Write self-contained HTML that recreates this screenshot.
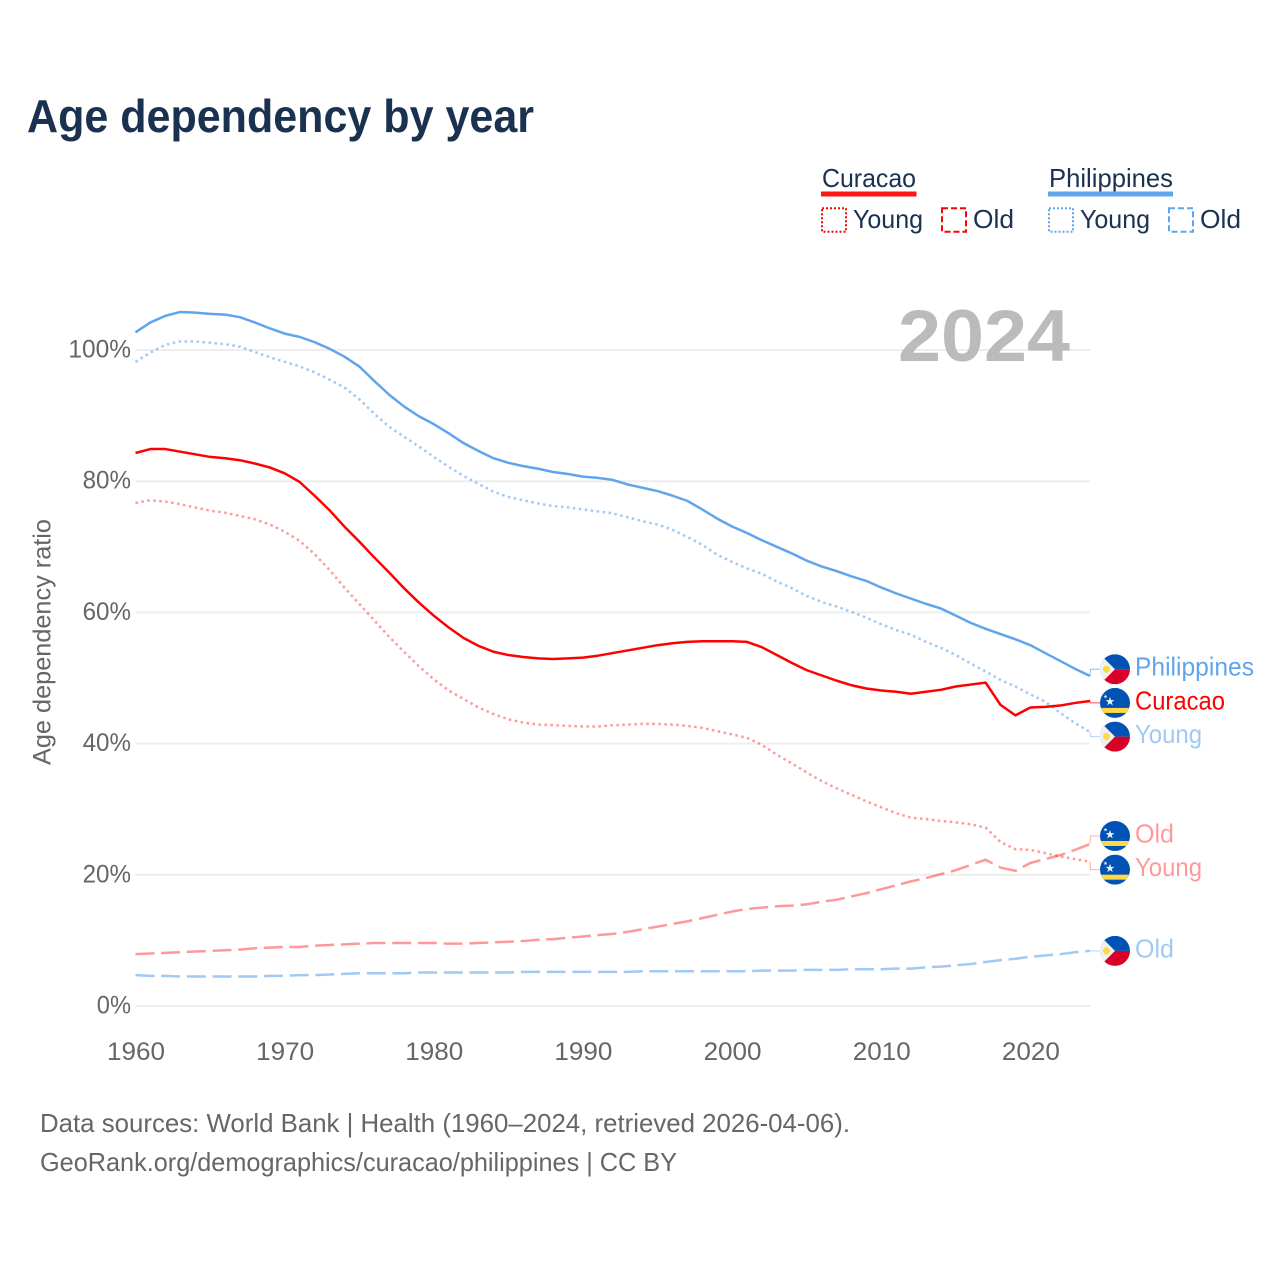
<!DOCTYPE html>
<html lang="en">
<head>
<meta charset="utf-8">
<title>Age dependency by year</title>
<style>
html,body{margin:0;padding:0;background:#fff;width:1280px;height:1280px;overflow:hidden}
svg{display:block}
text{font-family:"Liberation Sans",sans-serif}
</style>
</head>
<body>
<svg id="chart" xmlns="http://www.w3.org/2000/svg" width="1280" height="1280" viewBox="0 0 1280 1280">
  <defs>
    <clipPath id="flag-clip"><circle cx="0" cy="0" r="15"/></clipPath>
    <g id="flag-philippines">
      <g clip-path="url(#flag-clip)">
        <rect x="-15" y="-15" width="30" height="15" fill="#0052b4"/>
        <rect x="-15" y="0" width="30" height="15" fill="#d80027"/>
        <polygon points="-15,-15 0,0 -15,15" fill="#f0f0f0"/>
        <polygon points="-15,-12 -1,0 -15,12" fill="#f0f0f0"/>
        <circle cx="-8.5" cy="0" r="3.6" fill="#ffda44"/>
      </g>
    </g>
    <g id="flag-curacao">
      <g clip-path="url(#flag-clip)">
        <rect x="-15" y="-15" width="30" height="30" fill="#0052b4"/>
        <rect x="-15" y="5" width="30" height="5" fill="#ffda44"/>
        <polygon points="-5,-6 -3.9,-2.8 -0.6,-2.8 -3.2,-0.8 -2.3,2.4 -5,0.5 -7.7,2.4 -6.8,-0.8 -9.4,-2.8 -6.1,-2.8" fill="#f0f0f0"/>
        <polygon points="-9.5,-8.5 -9,-7 -7.5,-7 -8.7,-6 -8.2,-4.6 -9.5,-5.5 -10.8,-4.6 -10.3,-6 -11.5,-7 -10,-7" fill="#f0f0f0"/>
      </g>
    </g>
  </defs>

  <text x="27" y="132" font-size="46" font-weight="700" fill="#1a3150" textLength="507" lengthAdjust="spacingAndGlyphs">Age dependency by year</text>

  <g>
    <text x="822" y="187" font-size="26" fill="#1a3150" textLength="94" lengthAdjust="spacingAndGlyphs">Curacao</text>
    <rect x="821" y="191.5" width="95.5" height="5" fill="#ff0000" opacity="0.92"/>
    <rect x="822" y="208.3" width="24" height="23.5" fill="none" stroke="#ff0000" stroke-width="2" stroke-dasharray="2 2"/>
    <text x="853" y="228" font-size="26" fill="#1a3150" textLength="70" lengthAdjust="spacingAndGlyphs">Young</text>
    <rect x="942" y="208.3" width="24" height="23.5" fill="none" stroke="#ff0000" stroke-width="2" stroke-dasharray="6 3"/>
    <text x="973" y="228" font-size="26" fill="#1a3150" textLength="41" lengthAdjust="spacingAndGlyphs">Old</text>

    <text x="1049" y="187" font-size="26" fill="#1a3150" textLength="124" lengthAdjust="spacingAndGlyphs">Philippines</text>
    <rect x="1048" y="191.5" width="125" height="5" fill="#60a5ec"/>
    <rect x="1049" y="208.3" width="24" height="23.5" fill="none" stroke="#60a5ec" stroke-width="2" stroke-dasharray="2 2"/>
    <text x="1080" y="228" font-size="26" fill="#1a3150" textLength="70" lengthAdjust="spacingAndGlyphs">Young</text>
    <rect x="1169" y="208.3" width="24" height="23.5" fill="none" stroke="#60a5ec" stroke-width="2" stroke-dasharray="6 3"/>
    <text x="1200" y="228" font-size="26" fill="#1a3150" textLength="41" lengthAdjust="spacingAndGlyphs">Old</text>
  </g>

  <g id="grid"></g>
  <g id="yticks"></g>
  <g id="xticks"></g>

  <text transform="translate(50.5,642) rotate(-90)" text-anchor="middle" font-size="25" fill="#666666" textLength="246" lengthAdjust="spacingAndGlyphs">Age dependency ratio</text>

  <text x="898" y="361" font-size="73" font-weight="700" fill="#bbbbbb" textLength="172" lengthAdjust="spacingAndGlyphs">2024</text>

  <g id="series"></g>
  <g id="endlabels"></g>

  <text x="40" y="1132" font-size="26" fill="#666666" textLength="810" lengthAdjust="spacingAndGlyphs">Data sources: World Bank | Health (1960–2024, retrieved 2026-04-06).</text>
  <text x="40" y="1171" font-size="26" fill="#666666" textLength="637" lengthAdjust="spacingAndGlyphs">GeoRank.org/demographics/curacao/philippines | CC BY</text>
</svg>

<script>
var startYear = 1960;
var endYear = 2024;
var xTickLabels = [1960, 1970, 1980, 1990, 2000, 2010, 2020];
var yTickLabels = [0, 20, 40, 60, 80, 100];

var philippinesTotal = [
  102.7,104.2,105.2,105.8,105.7,105.5,105.4,105.0,104.2,103.3,
  102.5,102.0,101.2,100.2,99.0,97.5,95.3,93.2,91.4,89.9,
  88.7,87.3,85.8,84.6,83.5,82.8,82.3,81.9,81.4,81.1,
  80.7,80.5,80.2,79.5,79.0,78.5,77.8,77.0,75.7,74.3,
  73.1,72.1,71.0,70.0,69.0,67.9,67.0,66.3,65.5,64.8,
  63.8,62.9,62.1,61.3,60.6,59.5,58.4,57.5,56.7,55.9,
  55.0,53.8,52.6,51.4,50.3
];
var philippinesYoung = [
  98.2,99.6,100.8,101.3,101.3,101.1,100.9,100.5,99.7,98.9,
  98.2,97.5,96.6,95.5,94.3,92.5,90.3,88.3,86.8,85.3,
  83.7,82.2,80.8,79.6,78.4,77.6,77.1,76.6,76.2,76.0,
  75.7,75.4,75.1,74.5,73.9,73.4,72.6,71.5,70.3,68.8,
  67.7,66.7,65.9,64.7,63.7,62.5,61.6,60.9,60.1,59.2,
  58.2,57.3,56.6,55.5,54.6,53.5,52.2,51.0,49.7,48.7,
  47.5,46.4,44.7,43.1,41.8
];
var philippinesOld = [
  4.7,4.6,4.6,4.5,4.5,4.5,4.5,4.5,4.5,4.6,
  4.6,4.7,4.7,4.8,4.9,5.0,5.0,5.0,5.0,5.1,
  5.1,5.1,5.1,5.1,5.1,5.1,5.2,5.2,5.2,5.2,
  5.2,5.2,5.2,5.2,5.3,5.3,5.3,5.3,5.3,5.3,
  5.3,5.3,5.4,5.4,5.4,5.5,5.5,5.5,5.6,5.6,
  5.6,5.7,5.7,5.9,6.0,6.2,6.4,6.7,7.0,7.2,
  7.5,7.7,7.9,8.2,8.4
];
var curacaoTotal = [
  84.3,84.9,84.9,84.5,84.1,83.7,83.5,83.2,82.7,82.1,
  81.2,79.9,77.8,75.6,73.1,70.8,68.4,66.1,63.7,61.5,
  59.5,57.7,56.1,54.9,54.0,53.5,53.2,53.0,52.9,53.0,
  53.1,53.4,53.8,54.2,54.6,55.0,55.3,55.5,55.6,55.6,
  55.6,55.5,54.7,53.5,52.3,51.2,50.4,49.6,48.9,48.4,
  48.1,47.9,47.6,47.9,48.2,48.7,49.0,49.3,45.9,44.3,
  45.5,45.6,45.8,46.2,46.5
];
var curacaoYoung = [
  76.7,77.1,76.9,76.5,76.0,75.5,75.2,74.7,74.2,73.4,
  72.3,70.9,68.9,66.5,63.8,61.3,58.8,56.3,54.0,51.8,
  49.8,48.1,46.8,45.5,44.5,43.7,43.2,42.9,42.8,42.7,
  42.6,42.6,42.8,42.9,43.0,43.0,42.9,42.7,42.4,41.9,
  41.4,40.9,39.8,38.3,37.0,35.6,34.3,33.2,32.2,31.2,
  30.3,29.4,28.7,28.5,28.2,28.0,27.7,27.2,25.0,23.9,
  23.8,23.3,22.8,22.4,22.0
];
var curacaoOld = [
  7.9,8.0,8.1,8.2,8.3,8.4,8.5,8.6,8.8,8.9,
  9.0,9.0,9.2,9.3,9.4,9.5,9.6,9.6,9.6,9.6,
  9.6,9.5,9.5,9.6,9.7,9.8,9.9,10.1,10.2,10.4,
  10.6,10.8,11.0,11.3,11.7,12.1,12.5,12.9,13.4,13.9,
  14.4,14.8,15.0,15.2,15.3,15.5,15.9,16.2,16.7,17.2,
  17.8,18.4,19.0,19.5,20.1,20.7,21.5,22.3,21.1,20.6,
  21.8,22.4,23.0,23.8,24.7
];

var NS = 'http://www.w3.org/2000/svg';
function sx(year) { return 135.5 + (year - startYear) * (1090 - 135.5) / (endYear - startYear); }
function sy(pct) { return 1006 - pct * 6.56; }
function make(tag, attrs, parent) {
  var el = document.createElementNS(NS, tag);
  for (var k in attrs) el.setAttribute(k, attrs[k]);
  parent.appendChild(el);
  return el;
}

var gridG = document.getElementById('grid');
var yTickG = document.getElementById('yticks');
var xTickG = document.getElementById('xticks');
var seriesG = document.getElementById('series');
var endG = document.getElementById('endlabels');

yTickLabels.forEach(function (v) {
  var line = make('line', { x1: 135.5, x2: 1090, y1: sy(v), y2: sy(v), stroke: '#eeeeee', 'stroke-width': 2 }, gridG);
  
  
  var label = make('text', { x: 131, y: sy(v) + 7.5, 'text-anchor': 'end', 'font-size': 25, fill: '#666666', textLength: String(v).length * 14.2 + 20, lengthAdjust: 'spacingAndGlyphs' }, yTickG);
  
  
  label.textContent = v + '%';
});

xTickLabels.forEach(function (v) {
  var label = make('text', { x: sx(v) + 0.5, y: 1060, 'text-anchor': 'middle', 'font-size': 25, fill: '#666666', textLength: 58, lengthAdjust: 'spacingAndGlyphs' }, xTickG);
  
  
  label.textContent = v;
});

var seriesList = [
  { id: 'philippines-total', values: philippinesTotal, color: '#60a5ec', opacity: 1, dash: '', label: 'Philippines', flag: 'flag-philippines' },
  { id: 'philippines-young', values: philippinesYoung, color: '#60a5ec', opacity: 0.6, dash: '2.5 3.5', label: 'Young', flag: 'flag-philippines' },
  { id: 'philippines-old', values: philippinesOld, color: '#60a5ec', opacity: 0.6, dash: '19 6.7', label: 'Old', flag: 'flag-philippines' },
  { id: 'curacao-total', values: curacaoTotal, color: '#ff0000', opacity: 1, dash: '', label: 'Curacao', flag: 'flag-curacao' },
  { id: 'curacao-young', values: curacaoYoung, color: '#ff0000', opacity: 0.4, dash: '2.5 3.5', label: 'Young', flag: 'flag-curacao' },
  { id: 'curacao-old', values: curacaoOld, color: '#ff0000', opacity: 0.4, dash: '19 6.7', label: 'Old', flag: 'flag-curacao' }
];

var labelWidths = { Philippines: 119, Curacao: 90, Young: 67, Old: 39 };

seriesList.forEach(function (s) {
  var d = s.values.map(function (v, i) {
    return (i ? 'L' : 'M') + sx(startYear + i).toFixed(2) + ' ' + sy(v).toFixed(2);
  }).join(' ');
  var attrs = { d: d, fill: 'none', stroke: s.color, 'stroke-width': 2.5, 'stroke-opacity': s.opacity, 'stroke-linejoin': 'round' };
  if (s.dash) attrs['stroke-dasharray'] = s.dash;
  var path = make('path', attrs, seriesG);
  
  
});

/* Dodge end labels so they keep a minimum vertical gap, centred on their data values */
var labelGap = 33.7;
var ordered = seriesList.map(function (s) {
  return { s: s, target: sy(s.values[s.values.length - 1]) };
}).sort(function (a, b) { return a.target - b.target; });
var clusters = ordered.map(function (o) { return { items: [o], mean: o.target }; });
function clusterTop(c) { return c.mean - (c.items.length - 1) * labelGap / 2; }
function clusterBottom(c) { return c.mean + (c.items.length - 1) * labelGap / 2; }
var didMerge = true;
while (didMerge) {
  didMerge = false;
  for (var ci = 0; ci < clusters.length - 1; ci++) {
    if (clusterBottom(clusters[ci]) + labelGap > clusterTop(clusters[ci + 1])) {
      var mergedItems = clusters[ci].items.concat(clusters[ci + 1].items);
      var targetSum = mergedItems.reduce(function (a, o) { return a + o.target; }, 0);
      clusters.splice(ci, 2, { items: mergedItems, mean: targetSum / mergedItems.length });
      didMerge = true;
      break;
    }
  }
}
clusters.forEach(function (c) {
  c.items.forEach(function (o, idx) {
    var slot = clusterTop(c) + idx * labelGap;
    var s = o.s;
    var conn = make('path', {
      d: 'M1090 ' + o.target.toFixed(2) + ' L1090.5 ' + slot.toFixed(2) + ' L1100 ' + slot.toFixed(2),
      fill: 'none', stroke: s.color, 'stroke-width': 1, 'stroke-opacity': s.opacity < 1 ? s.opacity * 0.8 : 0.7
    }, endG);
    
    
    var flag = make('use', { href: '#' + s.flag, transform: 'translate(1115,' + slot.toFixed(2) + ')' }, endG);
    
    
    var label = make('text', {
      x: 1135, y: (slot + 6.5).toFixed(2), 'font-size': 26, fill: s.color, 'fill-opacity': s.opacity,
      textLength: labelWidths[s.label], lengthAdjust: 'spacingAndGlyphs'
    }, endG);
    
    
    label.textContent = s.label;
  });
});
</script>
</body>
</html>
